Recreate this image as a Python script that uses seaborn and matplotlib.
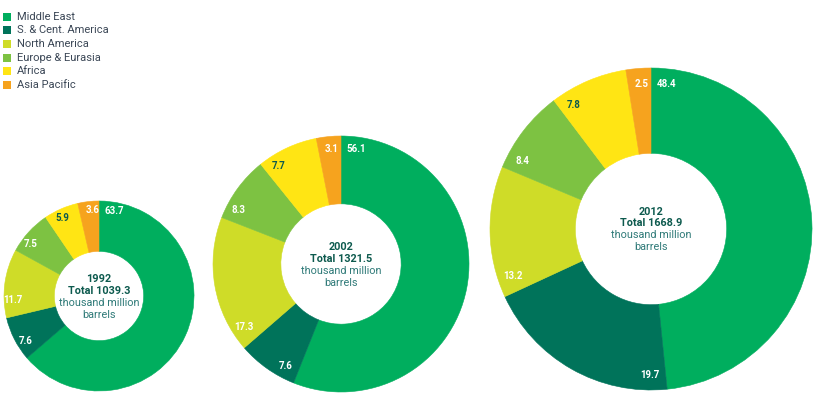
import numpy as np
import matplotlib
matplotlib.use("Agg")
import matplotlib.pyplot as plt
from matplotlib.patches import Rectangle
import seaborn as sns

# ---- data ----
regions = ["Middle East", "S. & Cent. America", "North America",
           "Europe & Eurasia", "Africa", "Asia Pacific"]
years = ["1992", "2002", "2012"]
totals = ["1039.3", "1321.5", "1668.9"]
share_1992 = [63.7, 7.6, 11.7, 7.5, 5.9, 3.6]
share_2002 = [56.1, 7.6, 17.3, 8.3, 7.7, 3.1]
share_2012 = [48.4, 19.7, 13.2, 8.4, 7.8, 2.5]
shares = [share_1992, share_2002, share_2012]

colors = ["#00AE5E", "#00735A", "#CFDC28", "#7DC242", "#FFE514", "#F6A31E"]
label_colors = ["white", "white", "white", "white", "#0d5a4e", "white"]

sns.set_theme(style="white")
plt.rcParams["font.family"] = ["Roboto", "DejaVu Sans"]

W, H = 824, 395
fig = plt.figure(figsize=(W / 100, H / 100), dpi=100)
fig.patch.set_facecolor("white")

# donut geometry in pixels (center x, center y from top, radius)
geom = [(99, 296, 95), (341, 264, 128), (651, 229, 161)]
hole = 0.47

for (cx, cy, r), vals, yr, tot in zip(geom, shares, years, totals):
    ax = fig.add_axes([(cx - r) / W, (H - cy - r) / H, 2 * r / W, 2 * r / H])
    wedges, _ = ax.pie(vals, colors=colors, startangle=90, counterclock=False,
                       radius=1, wedgeprops=dict(width=1 - hole, linewidth=0.4))
    for w in wedges:
        w.set_edgecolor(w.get_facecolor())
    ax.set_xlim(-1, 1)
    ax.set_ylim(-1, 1)
    ax.set_aspect("equal")
    ax.axis("off")

    total = sum(vals)
    cum = 0.0
    rl = 0.905
    for v, lc in zip(vals, label_colors):
        start = 360.0 * cum / total
        txt = f"{v:.1f}"
        half_w = len(txt) * 2.4
        arc_px = half_w + 6
        off = np.degrees(arc_px / (rl * r))
        th = np.radians(start + off)
        ax.text(rl * np.sin(th), rl * np.cos(th), txt, ha="center", va="center",
                fontsize=7.0, fontweight="bold", color=lc)
        cum += v

    # centre text
    lines = [(yr, -17, "bold", "#0d5a4e"),
             (f"Total {tot}", -5.5, "bold", "#0d5a4e"),
             ("thousand million", 6.5, "normal", "#2f7a78"),
             ("barrels", 18.5, "normal", "#2f7a78")]
    for s, dy, fw, c in lines:
        fig.text(cx / W, 1 - (cy + dy) / H, s, ha="center", va="center",
                 fontsize=7.8, fontweight=fw, color=c)

# legend (manual)
for i, (name, col) in enumerate(zip(regions, colors)):
    yc = 16.5 + i * 13.7
    fig.patches.append(Rectangle((3 / W, 1 - (yc + 4) / H), 8 / W, 8 / H,
                                 transform=fig.transFigure, facecolor=col,
                                 edgecolor="none"))
    fig.text(17 / W, 1 - yc / H, name, ha="left", va="center",
             fontsize=8.0, color="#3b4756")

fig.savefig("out.png", dpi=100)
